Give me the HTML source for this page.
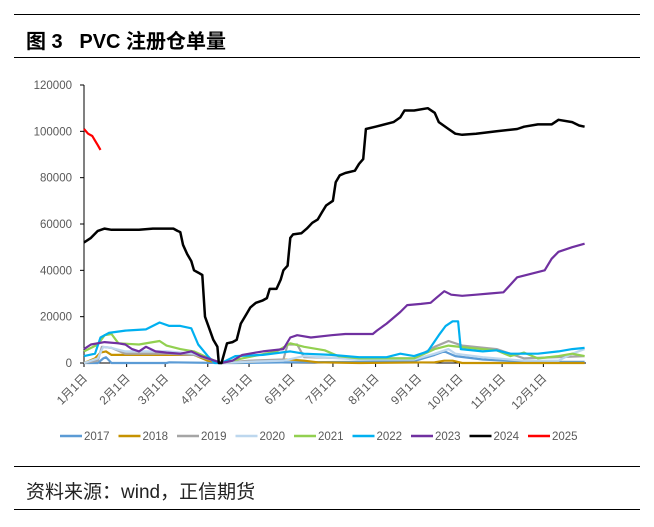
<!DOCTYPE html>
<html><head><meta charset="utf-8">
<style>
html,body{margin:0;padding:0;background:#fff;}
body{width:654px;height:527px;position:relative;overflow:hidden;font-family:"Liberation Sans","Noto Sans CJK SC",sans-serif;}
.rule{position:absolute;left:14px;width:626px;height:0;border-top:1.5px solid #000;}
#title{position:absolute;left:26px;top:25px;font-size:20px;font-weight:bold;color:#000;white-space:pre;}
#source{position:absolute;left:26px;top:477px;font-size:19px;color:#222;}
svg{position:absolute;left:0;top:0;}
</style></head><body>
<div class="rule" style="top:14px"></div>
<div id="title">图 3   PVC 注册仓单量</div>
<div class="rule" style="top:57px"></div>
<svg id="chart" width="654" height="527"></svg>
<div class="rule" style="top:466px"></div>
<div id="source">资料来源：wind，正信期货</div>
<div class="rule" style="top:509px"></div>
<script>
const yTicks=[0,20000,40000,60000,80000,100000,120000];
const monthLabels=["1月1日","2月1日","3月1日","4月1日","5月1日","6月1日","7月1日","8月1日","9月1日","10月1日","11月1日","12月1日"];
const monthDays=[0,31,59,90,120,151,181,212,243,273,304,334];
const seriesNames=["2017","2018","2019","2020","2021","2022","2023","2024","2025"];
const seriesColors=["#5b9bd5","#c69200","#a5a5a5","#bdd7ee","#92d050","#00b0f0","#7030a0","#000000","#ff0000"];
const d2017=[0,10,14,16,20,60,62,100,110,150,200,240,255,262,270,290,320,364];
const v2017=[0,0,2000,2500,0,0,300,0,0,300,500,800,3500,5000,3000,1500,500,500];
const d2018=[0,8,12,16,20,40,80,90,100,120,150,160,170,200,255,262,268,275,364];
const v2018=[0,2000,4500,5000,3500,3500,3500,1000,0,500,1500,1000,300,0,300,1000,1000,0,0];
const d2019=[0,10,13,20,30,60,80,100,120,145,148,155,160,200,240,255,265,275,300,320,364];
const v2019=[0,1000,7000,6500,4000,4000,3500,0,1000,1500,8000,8000,2500,2000,2000,7000,9500,7500,6000,2000,3000];
const d2020=[0,10,14,20,30,60,80,100,120,145,160,200,240,255,265,270,290,320,345,355,364];
const v2020=[0,2000,7000,6500,5000,5000,4000,0,500,1000,3000,1500,1500,4000,6000,4000,2500,1000,1000,4000,6000];
const d2021=[0,10,15,20,25,40,55,60,70,80,95,100,115,140,150,160,175,185,200,240,255,265,280,300,310,320,330,345,355,364];
const v2021=[5000,8000,12000,12500,8500,8000,9500,7500,6000,5000,1000,0,2000,5000,8500,7000,5500,3000,2000,2000,6000,7500,6500,5500,3000,4500,2000,3000,4000,3000];
const d2022=[0,8,12,18,30,45,55,62,70,78,83,90,95,100,110,130,150,160,180,200,220,230,240,250,258,263,268,272,274,290,300,310,330,345,355,364];
const v2022=[3000,4000,11000,13000,14000,14500,17500,16000,16000,15000,8000,3000,0,0,3000,3500,5000,4000,3500,2500,2500,4000,3000,5000,12000,16000,18000,18000,6000,5000,5500,4000,4000,5000,6000,6500];
const d2023=[0,5,15,25,30,35,40,45,52,60,70,78,85,95,100,108,115,130,145,150,155,165,180,190,210,213,220,230,235,245,252,256,262,267,275,285,295,305,315,325,335,340,345,355,364];
const v2023=[6000,8000,9000,8500,8000,6000,5000,7000,5000,4500,4000,5000,3000,1000,0,1000,3500,5000,6000,11000,12000,11000,12000,12500,12500,14000,17000,22000,25000,25500,26000,28000,31000,29500,29000,29500,30000,30500,37000,38500,40000,45000,48000,50000,51500];
const d2024=[0,5,10,15,20,40,50,65,68,70,72,75,78,80,83,86,88,91,94,97,98,100,104,108,111,114,118,121,125,130,133,135,140,143,145,148,150,152,158,162,166,170,173,176,181,183,186,190,197,200,203,205,212,225,230,233,240,250,255,258,265,270,275,285,300,315,320,330,340,345,355,360,364];
const v2024=[52000,54000,57000,58000,57500,57500,58000,58000,57000,56500,51000,47000,44000,40000,39000,38000,20000,15000,10000,7000,0,0,8500,9000,10000,17000,21000,24000,26000,27000,28000,32000,32000,36000,40000,42000,54000,55500,56000,58000,60500,62000,65000,68000,70000,78000,81000,82000,83000,86000,88000,101000,102000,104000,106000,109000,109000,110000,108000,104000,101000,99000,98500,99000,100000,101000,102000,103000,103000,105000,104000,102500,102000];
const d2025=[0,3,6,8,10,12];
const v2025=[101000,99000,98000,96000,94000,92000];
const allDays=[d2017,d2018,d2019,d2020,d2021,d2022,d2023,d2024,d2025];
const allVals=[v2017,v2018,v2019,v2020,v2021,v2022,v2023,v2024,v2025];

const NS="http://www.w3.org/2000/svg";
const svg=document.getElementById('chart');
const X0=84,X1=586,Y0=363,Y1=85;
function xScale(d){return X0+(X1-X0)*d/365;}
function yScale(v){return Y0-(Y0-Y1)*v/120000;}
function mk(tag,attrs){const e=document.createElementNS(NS,tag);for(const k in attrs)e.setAttribute(k,attrs[k]);svg.appendChild(e);return e;}

let ya=mk('line',{x1:X0,y1:Y1,x2:X0,y2:Y0,stroke:'#000','stroke-width':1});


yTicks.forEach(t=>{
  const y=yScale(t);
  let tk=mk('line',{x1:X0-4,y1:y,x2:X0,y2:y,stroke:'#000'});
  
  
  let tx=mk('text',{x:X0-12,y:y+4,'text-anchor':'end','font-size':11.5,fill:'#595959','font-family':'Liberation Sans, sans-serif'});
  tx.textContent=t;
  
  
});
let xa=mk('line',{x1:X0,y1:Y0,x2:X1,y2:Y0,stroke:'#000','stroke-width':1});


monthDays.forEach((d,i)=>{
  const x=xScale(d);
  let tk=mk('line',{x1:x,y1:Y0,x2:x,y2:Y0+4,stroke:'#000'});
  
  
  const tx0=x+4,ty0=Y0+16;
  let tx=mk('text',{x:tx0,y:ty0,'text-anchor':'end','font-size':12,fill:'#595959','font-family':'Liberation Sans, Noto Sans CJK SC, sans-serif',transform:`rotate(-45 ${tx0} ${ty0})`});
  tx.textContent=monthLabels[i];
  
  
});
allDays.forEach((ds,i)=>{
  const pts=ds.map((d,j)=>xScale(d).toFixed(1)+','+yScale(allVals[i][j]).toFixed(1)).join(' ');
  let pl=mk('polyline',{points:pts,fill:'none',stroke:seriesColors[i],'stroke-width':i===7?2.5:2.2,'stroke-linejoin':'round'});
  
  
});
seriesNames.forEach((n,i)=>{
  const lx=60+58.5*i;
  let ln=mk('line',{x1:lx,y1:436,x2:lx+22,y2:436,stroke:seriesColors[i],'stroke-width':2.5});
  
  
  let tx=mk('text',{x:lx+24,y:440,'font-size':11.5,fill:'#595959','font-family':'Liberation Sans, sans-serif'});
  tx.textContent=n;
  
  
});
</script>
</body></html>
